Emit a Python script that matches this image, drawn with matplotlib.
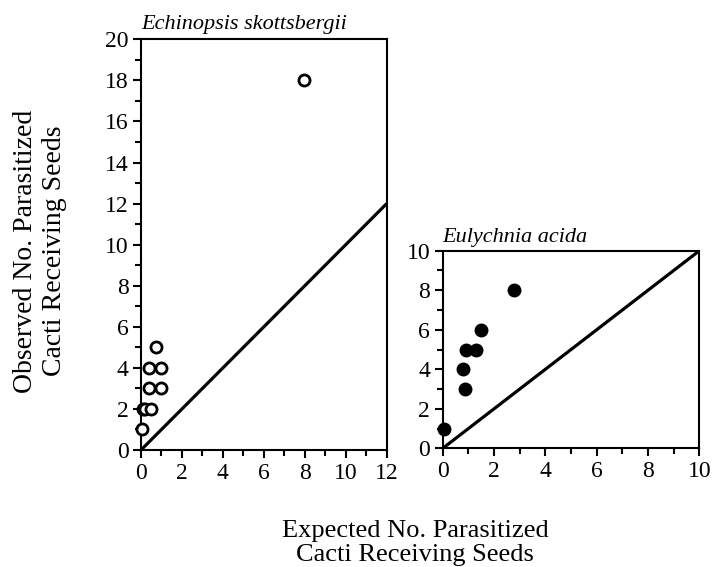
import matplotlib
matplotlib.use("Agg")
import matplotlib.pyplot as plt
from matplotlib.ticker import MultipleLocator

plt.rcParams['font.family'] = ['Liberation Serif', 'DejaVu Serif']

# Echinopsis skottsbergii (open circles)
ech_expected = [0.03, 0.08, 0.18, 0.5, 0.4, 0.98, 0.4, 1.0, 0.73, 7.95]
ech_observed = [1, 2, 2, 2, 3, 3, 4, 4, 5, 18]

# Eulychnia acida (filled circles)
eul_expected = [0.06, 0.78, 0.87, 0.9, 1.31, 1.49, 2.79]
eul_observed = [1, 4, 3, 5, 5, 6, 8]

left_ticks = [0, 2, 4, 6, 8, 10, 12]
left_yticks = [0, 2, 4, 6, 8, 10, 12, 14, 16, 18, 20]
right_ticks = [0, 2, 4, 6, 8, 10]

fig = plt.figure(figsize=(7.22, 5.67), dpi=100)
ax1 = fig.add_axes([0.1953, 0.2063, 0.3403, 0.7244])
ax2 = fig.add_axes([0.6132, 0.2093, 0.3554, 0.3485])

def style(ax):
    for s in ax.spines.values():
        s.set_linewidth(1.5)
    ax.tick_params(which='major', direction='out', length=6, width=1.5,
                   labelsize=17, pad=3, top=False, right=False)
    ax.tick_params(which='minor', direction='out', length=4, width=1.5,
                   top=False, right=False)
    ax.xaxis.set_minor_locator(MultipleLocator(1))
    ax.yaxis.set_minor_locator(MultipleLocator(1))

# Left panel
ax1.plot([0, 12], [0, 12], color='black', lw=2.3, solid_capstyle='butt')
ax1.plot(ech_expected, ech_observed, linestyle='none', marker='o', ms=8,
         mfc='white', mec='black', mew=2, clip_on=False, zorder=5)
ax1.set_xlim(0, 12)
ax1.set_ylim(0, 20)
ax1.set_xticks(left_ticks)
ax1.set_yticks(left_yticks)
style(ax1)
ax1.text(0.0, 1.012, 'Echinopsis skottsbergii', transform=ax1.transAxes,
         fontsize=16, style='italic', ha='left', va='bottom')

# Right panel
ax2.plot([0, 10], [0, 10], color='black', lw=2.3, solid_capstyle='butt')
ax2.plot(eul_expected, eul_observed, linestyle='none', marker='o', ms=9,
         mfc='black', mec='black', clip_on=False, zorder=5)
ax2.set_xlim(0, 10)
ax2.set_ylim(0, 10)
ax2.set_xticks(right_ticks)
ax2.set_yticks(right_ticks)
style(ax2)
ax2.text(0.0, 1.02, 'Eulychnia acida', transform=ax2.transAxes,
         fontsize=16, style='italic', ha='left', va='bottom')

fig.text(40 / 722, 1 - 251 / 567, 'Observed No. Parasitized\nCacti Receiving Seeds',
         rotation=90, ha='center', va='center', fontsize=20, linespacing=1.2)
fig.text(415 / 722, 1 - 543 / 567, 'Expected No. Parasitized\nCacti Receiving Seeds',
         ha='center', va='center', fontsize=19, linespacing=1.1)

fig.savefig('out.png', dpi=100)
